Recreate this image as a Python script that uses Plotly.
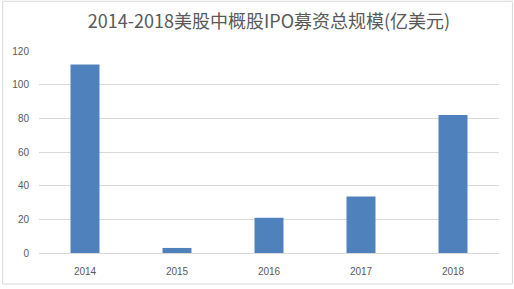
import plotly.graph_objects as go

years = ["2014", "2015", "2016", "2017", "2018"]
values = [112, 3, 21, 33.5, 82]
title_text = "2014-2018美股中概股IPO募资总规模(亿美元)"

W, H = 514, 289
L, R, T, B = 37, 15, 51, 33
pw, ph = W - L - R, H - T - B

fig = go.Figure(go.Bar(x=years, y=values, marker=dict(color="#4f81bd", line=dict(width=0)), width=0.315))

fig.update_layout(
    width=W, height=H,
    margin=dict(l=L, r=R, t=T, b=B),
    paper_bgcolor="white", plot_bgcolor="white",
    title=dict(text=title_text, x=0.5, xref="paper", xanchor="center", y=1 - 22 / H, yanchor="middle",
               font=dict(family="Noto Sans CJK SC, Open Sans, sans-serif", size=18, color="#595959")),
    font=dict(family="Liberation Sans, Arial, sans-serif", size=10, color="#595959"),
    showlegend=False,
)
fig.update_xaxes(showline=True, linecolor="#d9d9d9", linewidth=1, showgrid=False, ticks="",
                 ticklabelstandoff=9, tickfont=dict(size=10, color="#595959"))
fig.update_yaxes(range=[0, 120], dtick=20, showgrid=True, gridcolor="#d9d9d9", gridwidth=1,
                 zeroline=False, showline=False, ticks="", ticklabelstandoff=9,
                 tickfont=dict(size=10, color="#595959"))

# outer chart border
fig.add_shape(type="rect", xref="paper", yref="paper",
              x0=(0.5 - L) / pw, x1=(W - 1.5 - L) / pw,
              y0=-(B - 1.5) / ph, y1=1 + (T - 0.5) / ph,
              line=dict(color="#d9d9d9", width=1), fillcolor="rgba(0,0,0,0)", layer="below")

fig.write_html("out.html")
